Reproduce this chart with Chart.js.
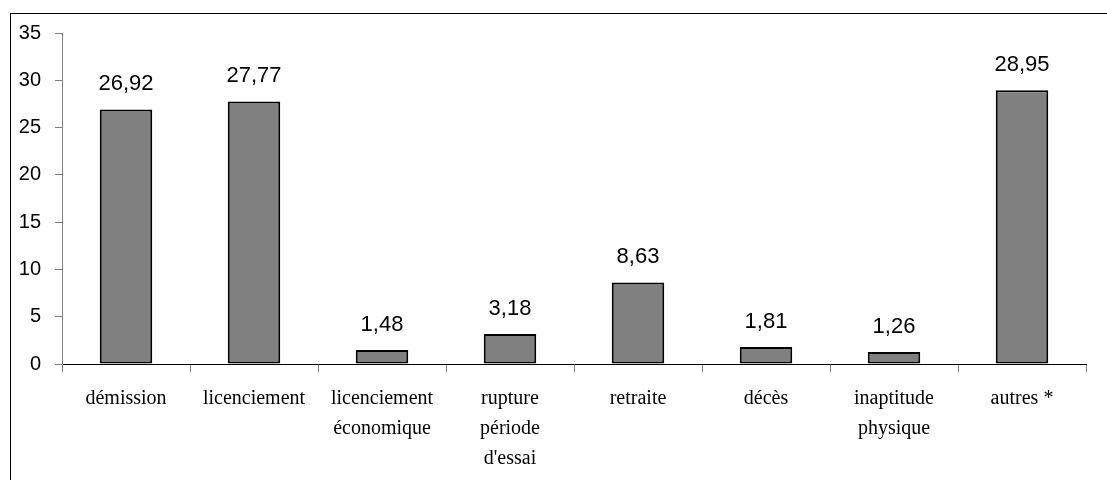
<!DOCTYPE html>
<html>
<head>
<meta charset="utf-8">
<script src="https://cdn.jsdelivr.net/npm/chart.js@4"></script>
<style>
  html, body { margin: 0; padding: 0; background: #fff; }
  #wrap { width: 1107px; height: 480px; }
</style>
</head>
<body>
<div id="wrap"><canvas id="motifs"></canvas></div>
<script>
const categories = [
  'démission',
  'licenciement',
  ['licenciement', 'économique'],
  ['rupture', 'période', "d'essai"],
  'retraite',
  'décès',
  ['inaptitude', 'physique'],
  'autres *'
];
const values = [26.92, 27.77, 1.48, 3.18, 8.63, 1.81, 1.26, 28.95];
const yTicks = [0, 5, 10, 15, 20, 25, 30, 35];

// frame around the whole chart (left and top edges visible)
const frame = {
  id: 'frame',
  beforeDraw(chart) {
    const ctx = chart.ctx;
    ctx.save();
    ctx.strokeStyle = '#000';
    ctx.lineWidth = 1;
    ctx.strokeRect(10.5, 13.5, chart.width + 20, chart.height + 20);
    ctx.restore();
  }
};

// value labels above the bars
const valueLabels = {
  id: 'valueLabels',
  afterDatasetsDraw(chart) {
    const ctx = chart.ctx;
    const meta = chart.getDatasetMeta(0);
    ctx.save();
    ctx.font = '22px "Liberation Sans", Arial, sans-serif';
    ctx.fillStyle = '#000';
    ctx.textAlign = 'center';
    ctx.textBaseline = 'middle';
    meta.data.forEach((bar, i) => {
      ctx.fillText(values[i].toFixed(2).replace('.', ','), bar.x, bar.y - 25);
    });
    ctx.restore();
  }
};

new Chart(document.getElementById('motifs'), {
  type: 'bar',
  data: {
    labels: categories,
    datasets: [{
      data: values,
      backgroundColor: '#808080',
      borderColor: '#000',
      borderWidth: 2,
      borderSkipped: false,
      barPercentage: 0.41,
      categoryPercentage: 1
    }]
  },
  options: {
    responsive: true,
    maintainAspectRatio: false,
    animation: false,
    layout: { padding: { left: 0, top: 33, right: 21, bottom: 0 } },
    plugins: {
      legend: { display: false },
      tooltip: { enabled: false }
    },
    scales: {
      x: {
        grid: { drawOnChartArea: false, tickLength: 8, color: '#808080' },
        border: { color: '#000', width: 1 },
        ticks: {
          color: '#000',
          maxRotation: 0,
          autoSkip: false,
          padding: 12,
          font: { family: '"Liberation Serif", "Times New Roman", serif', size: 20, lineHeight: '30px' }
        },
        afterFit(scale) { scale.height = 116; }
      },
      y: {
        min: 0,
        max: 35,
        afterBuildTicks(scale) { scale.ticks = yTicks.map(v => ({ value: v })); },
        grid: { drawOnChartArea: false, tickLength: 7, color: '#808080' },
        border: { color: '#808080', width: 1 },
        ticks: {
          color: '#000',
          padding: 14,
          font: { family: '"Liberation Sans", Arial, sans-serif', size: 20 }
        },
        afterFit(scale) { scale.width = 62; }
      }
    }
  },
  plugins: [frame, valueLabels]
});
</script>
</body>
</html>
